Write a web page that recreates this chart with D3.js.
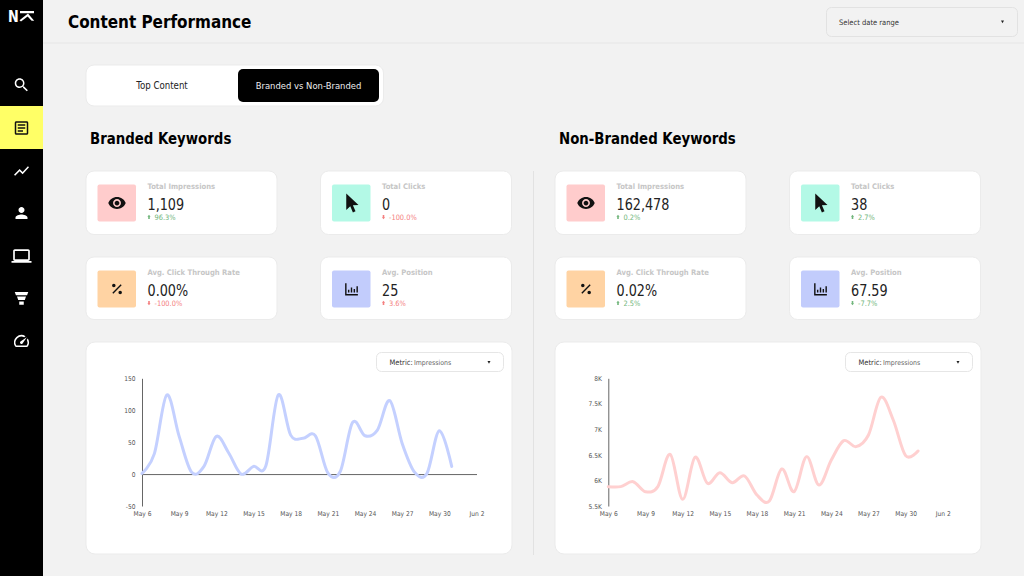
<!DOCTYPE html>
<html><head><meta charset="utf-8">
<script src="https://cdn.jsdelivr.net/npm/d3@7"></script>
<style>
html,body{margin:0;padding:0;background:#f2f2f2;overflow:hidden}
svg{display:block}
text{font-family:"DejaVu Sans",sans-serif;font-stretch:condensed}
</style></head><body>
<svg id="c" width="1024" height="576"></svg>
<script>
// ---- data ----
const pageTitle = "Content Performance";
const tabLabels = ["Top Content", "Branded vs Non-Branded"];
const panelTitles = ["Branded Keywords", "Non-Branded Keywords"];
const kpiLabels = ["Total Impressions", "Total Clicks", "Avg. Click Through Rate", "Avg. Position"];
const brandedKpiValues = ["1,109", "0", "0.00%", "25"];
const brandedKpiChanges = ["96.3%", "-100.0%", "-100.0%", "3.6%"];
const brandedKpiGood = [true, false, false, false];
const nonBrandedKpiValues = ["162,478", "38", "0.02%", "67.59"];
const nonBrandedKpiChanges = ["0.2%", "2.7%", "2.5%", "-7.7%"];
const nonBrandedKpiGood = [true, true, true, true];
const brandedImpressions = [1, 32, 124, 59, 3, 12, 59, 33, 0, 12, 13, 124, 61, 56, 60, 2, 4, 81, 60, 69, 115, 48, 3, 1, 68, 12];
const nonBrandedImpressions = [5879, 5879, 5976, 5780, 5880, 6512, 5630, 6453, 5944, 6153, 5957, 6087, 5715, 5598, 6225, 5780, 6466, 5911, 6400, 6779, 6662, 6890, 7628, 7184, 6486, 6577];
const brandedYTicks = [-50, 0, 50, 100, 150];
const nonBrandedYTicks = [5500, 6000, 6500, 7000, 7500, 8000];
const nonBrandedYLabels = ["5.5K", "6K", "6.5K", "7K", "7.5K", "8K"];
const xTickLabels = ["May 6", "May 9", "May 12", "May 15", "May 18", "May 21", "May 24", "May 27", "May 30", "Jun 2"];
const firstDay = "2023-05-06", lastDay = "2023-06-02";

// ---- icons (24x24 glyphs) ----
const ICON = {
  search:"M15.5 14h-.79l-.28-.27C15.41 12.59 16 11.11 16 9.5 16 5.91 13.09 3 9.5 3S3 5.91 3 9.5 5.91 16 9.5 16c1.61 0 3.09-.59 4.23-1.57l.27.28v.79l5 4.99L20.49 19l-4.99-5zm-6 0C7.01 14 5 11.99 5 9.5S7.01 5 9.5 5 14 7.01 14 9.5 11.99 14 9.5 14z",
  article:"M19 3H5c-1.1 0-2 .9-2 2v14c0 1.1.9 2 2 2h14c1.1 0 2-.9 2-2V5c0-1.1-.9-2-2-2zm0 16H5V5h14v14zM7 7h10v2H7zm0 4h10v2H7zm0 4h7v2H7z",
  chart:"M3.5 18.49l6-6.01 4 4L22 6.92l-1.41-1.41-7.09 7.97-4-4L2 16.99z",
  person:"M12 12c2.21 0 4-1.79 4-4s-1.79-4-4-4-4 1.79-4 4 1.79 4 4 4zm0 2c-2.67 0-8 1.34-8 4v2h16v-2c0-2.66-5.33-4-8-4z",
  laptop:"M20 18c1.1 0 2-.9 2-2V6c0-1.1-.9-2-2-2H4c-1.1 0-2 .9-2 2v10c0 1.1.9 2 2 2H0v2h24v-2h-4zM4 6h16v10H4V6z",
  funnel:"M3 4h18l-1.6 4.2H4.6zM6 10h12l-1.6 4.5H7.6zM9 16.5h6V21H9z",
  gauge:"M20.38 8.57l-1.23 1.85a8 8 0 0 1-.22 7.58H5.07A8 8 0 0 1 15.58 6.85l1.85-1.23A10 10 0 0 0 3.35 19a2 2 0 0 0 1.72 1h13.85a2 2 0 0 0 1.74-1 10 10 0 0 0-.27-10.44zM10.59 15.41a2 2 0 0 0 2.83 0l5.66-8.49-8.49 5.66a2 2 0 0 0 0 2.83z",
  eye:"M12 4.5C7 4.5 2.73 7.61 1 12c1.73 4.39 6 7.5 11 7.5s9.27-3.11 11-7.5c-1.73-4.39-6-7.5-11-7.5zM12 17c-2.76 0-5-2.24-5-5s2.24-5 5-5 5 2.24 5 5-2.24 5-5 5zm0-8c-1.66 0-3 1.34-3 3s1.34 3 3 3 3-1.34 3-3-1.34-3-3-3z",
  cursor:"M6 1l0 19 4.6-4.2 3 7 3-1.3-3-6.9 6.4-.2z",
  percent:"M7.5 4.5a2.5 2.5 0 1 1 0 5 2.5 2.5 0 0 1 0-5zM16.5 14.5a2.5 2.5 0 1 1 0 5 2.5 2.5 0 0 1 0-5zM5.4 17.2L17.2 5.4l1.4 1.4L6.8 18.6z",
  bars:"M3 4h2v15h16v2H3zM7 13h2v4H7zM11 10h2v7h-2zM15 12h2v5h-2zM19 8h2v9h-2z"
};
const kpiIcons = [ICON.eye, ICON.cursor, ICON.percent, ICON.bars];
const kpiSizes = [19, 21, 17, 17];
const kpiColors = ["#ffcccc", "#b3f9e6", "#ffd3a3", "#c2ccfc"];
const sideIcons = [[ICON.search,85],[ICON.article,128],[ICON.chart,171],[ICON.person,213],[ICON.laptop,256],[ICON.funnel,298],[ICON.gauge,341]];

const svg = d3.select("#c");
const glyph = (g, d, cx, cy, size, fill) => g.append("path").attr("d", d).attr("fill", fill)
  .attr("transform", `translate(${cx - size/2},${cy - size/2}) scale(${size/24})`);
const card = (g, x, y, w, h, rx=8) => g.append("rect").attr("x", x).attr("y", y).attr("width", w).attr("height", h)
  .attr("rx", rx).attr("fill", "#fff").attr("stroke", "#ebebeb");
const label = (g, x, y, s, size, fill, weight="normal", anchor="start", sx=1) => g.append("text")
  .attr("transform", `translate(${x},${y}) scale(${sx},1)`).attr("font-size", size).attr("fill", fill)
  .attr("font-weight", weight).attr("text-anchor", anchor).text(s);
const arrow = (g, x, y, up, fill) => g.append("path")
  .attr("d", up ? "M0-3.2L1.6-1.2H.8V1H-.8V-1.2H-1.6Z" : "M0 1.2L1.6-.8H.8V-3H-.8V-.8H-1.6Z")
  .attr("transform", `translate(${x},${y})`).attr("fill", fill);

// page frame
svg.append("rect").attr("width", 1024).attr("height", 576).attr("fill", "#f2f2f2");
svg.append("line").attr("x1", 43).attr("x2", 1024).attr("y1", 43).attr("y2", 43).attr("stroke", "#e6e6e6");
svg.append("rect").attr("width", 43).attr("height", 576).attr("fill", "#000");
svg.append("rect").attr("y", 106).attr("width", 43).attr("height", 43).attr("fill", "#ffff66");
// logo
label(svg, 8, 21.7, "N", 15, "#fff", "bold", "start", .95);
svg.append("path").attr("d", "M20 11h14v2.2H20zM19.5 20.2L28 13.6l6.2 7.2h-2.6L27.6 16.6 21 21.5z").attr("fill", "#fff");
sideIcons.forEach(([d, y], i) => glyph(svg, d, 21.5, y, i === 4 ? 20 : 18, i === 1 ? "#111" : "#fff"));

// header
label(svg, 68, 28, pageTitle, 18.5, "#000", "bold", "start", .915);
svg.append("rect").attr("x", 826.5).attr("y", 7.5).attr("width", 191).attr("height", 29).attr("rx", 5).attr("fill", "#f2f2f2").attr("stroke", "#e2e2e2");
label(svg, 839, 24.5, "Select date range", 7.5, "#333");
svg.append("path").attr("d", d3.symbol(d3.symbolTriangle, 4)()).attr("transform", "translate(1002.5,21.5) rotate(180)").attr("fill", "#222");

// tabs
card(svg, 86, 65, 297.5, 41, 8);
svg.append("rect").attr("x", 238).attr("y", 69).attr("width", 141).attr("height", 33).attr("rx", 5).attr("fill", "#000");
label(svg, 162, 89, tabLabels[0], 9.6, "#222", "normal", "middle");
label(svg, 308.5, 89, tabLabels[1], 9.4, "#eee", "normal", "middle");

// divider
svg.append("line").attr("x1", 533.5).attr("x2", 533.5).attr("y1", 171).attr("y2", 555).attr("stroke", "#e2e2e2");

const dates = d3.utcDay.range(new Date(firstDay), new Date(lastDay + "T12:00Z"));

function panel(opts) {
  const g = svg.append("g");
  label(g, opts.titleX, 143.5, opts.title, 15.5, "#000", "bold", "start", .957);
  const xs = [opts.cardX, opts.cardX + 234.5], ys = [171, 257];
  kpiLabels.forEach((name, i) => {
    const x = xs[i % 2], y = ys[i >> 1], cg = g.append("g");
    card(cg, x, y, 191, i > 1 ? 62.5 : 63.5);
    cg.append("rect").attr("x", x + 11.5).attr("y", y + 13.5).attr("width", 38.5).attr("height", 37).attr("rx", 2).attr("fill", kpiColors[i]);
    glyph(cg, kpiIcons[i], x + 31, y + 32, kpiSizes[i], "#111");
    label(cg, x + 61.5, y + 17.5, name, 7.6, "#c6c6c6", "bold");
    label(cg, x + 61.5, y + 38.5, opts.values[i], 16, "#222", "normal", "start", .89);
    const col = opts.good[i] ? "#72b67c" : "#f47f7f";
    arrow(cg, x + 63, y + 47, !opts.changes[i].startsWith("-"), col);
    label(cg, x + 68.5, y + 48.5, opts.changes[i], 7.4, col);
  });

  // chart card
  card(g, opts.cardX, 342, 426, 212, 9);
  const m = opts.menuX;
  g.append("rect").attr("x", m + .5).attr("y", 352.5).attr("width", 127).attr("height", 19).attr("rx", 5).attr("fill", "#fff").attr("stroke", "#e6e6e6");
  label(g, m + 13.5, 365, "Metric:", 7.5, "#333");
  label(g, m + 38, 365, "Impressions", 6.9, "#666");
  g.append("path").attr("d", d3.symbol(d3.symbolTriangle, 4)()).attr("transform", `translate(${m + 113},362) rotate(180)`).attr("fill", "#222");

  const x = d3.scaleUtc().domain([dates[0], dates[dates.length - 1]]).range([opts.plotX, opts.plotX + 334.5]);
  const y = d3.scaleLinear().domain(opts.domain).range([506, 378.3]);
  const tickDates = dates.filter((d, i) => i % 3 === 0);

  // x axis: labels sit under the plot; the domain line crosses at zero when it is in range
  const ax = g.append("g").attr("transform", `translate(0,${y(Math.max(0, opts.domain[0]))})`)
    .call(d3.axisBottom(x).tickValues(tickDates).tickSize(0).tickPadding(0).tickFormat((d, i) => xTickLabels[i]));
  ax.select(".domain").attr("stroke", opts.domain[0] <= 0 ? "#666" : "none").attr("stroke-width", 1);
  ax.selectAll("text").attr("y", 0).attr("dy", 0)
    .attr("transform", `translate(0,${515.8 - y(Math.max(0, opts.domain[0]))})`)
    .attr("font-size", 6.6).attr("font-family", null).attr("fill", "#555");

  const ay = g.append("g").attr("transform", `translate(${opts.plotX},0)`)
    .call(d3.axisLeft(y).tickValues(opts.yTicks).tickSize(0).tickPadding(6.5).tickFormat((d, i) => opts.yLabels ? opts.yLabels[i] : d));
  ay.select(".domain").attr("stroke", "#666").attr("stroke-width", 1);
  ay.selectAll("text").attr("font-size", 6.6).attr("font-family", null).attr("fill", "#555");

  g.append("path").datum(opts.series)
    .attr("d", d3.line().x((d, i) => x(dates[i])).y(d => y(d)).curve(d3.curveCardinal.tension(0)))
    .attr("fill", "none").attr("stroke", opts.color).attr("stroke-width", 3).attr("stroke-linecap", "round");
}

panel({title: panelTitles[0], titleX: 90, cardX: 86, menuX: 376, plotX: 142, values: brandedKpiValues, changes: brandedKpiChanges, good: brandedKpiGood,
  series: brandedImpressions, domain: [-50, 150], yTicks: brandedYTicks, color: "#c4d0ff"});
panel({title: panelTitles[1], titleX: 559, cardX: 555, menuX: 845, plotX: 608.3, values: nonBrandedKpiValues, changes: nonBrandedKpiChanges, good: nonBrandedKpiGood,
  series: nonBrandedImpressions, domain: [5500, 8000], yTicks: nonBrandedYTicks, yLabels: nonBrandedYLabels, color: "#ffd0d0"});
</script>
</body></html>
